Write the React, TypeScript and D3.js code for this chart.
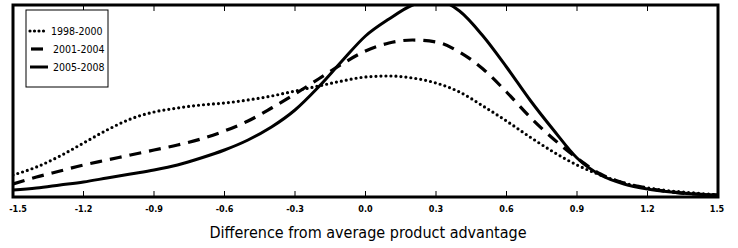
import React, { useEffect, useRef } from 'react';
import * as d3 from 'd3';

const xGrid = [-1.5, -1.4, -1.3, -1.2, -1.1, -1.0, -0.9, -0.8, -0.7, -0.6, -0.5, -0.4, -0.3, -0.2, -0.1, 0.0,
  0.1, 0.2, 0.3, 0.4, 0.5, 0.6, 0.7, 0.8, 0.9, 1.0, 1.1, 1.2, 1.3, 1.4, 1.5];

const dens9800 = [0.22, 0.30, 0.41, 0.54, 0.67, 0.78, 0.85, 0.89, 0.92, 0.94, 0.97, 1.01, 1.06, 1.11, 1.16, 1.20,
  1.21, 1.19, 1.14, 1.05, 0.91, 0.76, 0.60, 0.45, 0.32, 0.22, 0.14, 0.09, 0.06, 0.04, 0.02];
const dens0104 = [0.13, 0.20, 0.26, 0.32, 0.37, 0.42, 0.47, 0.52, 0.58, 0.66, 0.76, 0.89, 1.03, 1.18, 1.33, 1.46,
  1.54, 1.57, 1.55, 1.45, 1.28, 1.05, 0.80, 0.58, 0.39, 0.23, 0.14, 0.09, 0.05, 0.03, 0.02];
const dens0508 = [0.07, 0.09, 0.12, 0.15, 0.19, 0.23, 0.27, 0.32, 0.39, 0.47, 0.57, 0.70, 0.87, 1.10, 1.36, 1.61,
  1.78, 1.92, 1.97, 1.86, 1.61, 1.30, 0.97, 0.67, 0.39, 0.22, 0.13, 0.08, 0.05, 0.03, 0.02];

const seriesNames = ['1998-2000', '2001-2004', '2005-2008'];
const tickVals = [-1.5, -1.2, -0.9, -0.6, -0.3, 0.0, 0.3, 0.6, 0.9, 1.2, 1.5];
const tickLabels = ['-1.5', '-1.2', '-0.9', '-0.6', '-0.3', '0.0', '0.3', '0.6', '0.9', '1.2', '1.5'];
const xTitle = 'Difference from average product advantage';

export default function App() {
  const ref = useRef<SVGSVGElement>(null);

  useEffect(() => {
    const svg = d3.select(ref.current);
    svg.selectAll('*').remove();

    const left = 13, right = 718, top = 5, bottom = 197;
    const x = d3.scaleLinear().domain([-1.5, 1.5]).range([left, right]);
    const y = d3.scaleLinear().domain([0, 1.92]).range([bottom, top]);

    svg.append('defs').append('clipPath').attr('id', 'plotClip')
      .append('rect').attr('x', left).attr('y', top).attr('width', right - left).attr('height', bottom - top);

    const styles = [
      { data: dens9800, width: 3.2, dash: '0,5', cap: 'round' },
      { data: dens0104, width: 3.2, dash: '12,8', cap: 'butt' },
      { data: dens0508, width: 3, dash: null, cap: 'butt' },
    ];

    const line = d3.line<number>()
      .x((d, i) => x(xGrid[i]))
      .y(d => y(d))
      .curve(d3.curveMonotoneX);

    const g = svg.append('g').attr('clip-path', 'url(#plotClip)');
    styles.forEach(s => {
      g.append('path')
        .attr('d', line(s.data))
        .attr('fill', 'none')
        .attr('stroke', '#000')
        .attr('stroke-width', s.width)
        .attr('stroke-linecap', s.cap)
        .attr('stroke-dasharray', s.dash);
    });

    // frame
    svg.append('rect').attr('x', left).attr('y', top).attr('width', right - left).attr('height', bottom - top)
      .attr('fill', 'none').attr('stroke', '#000').attr('stroke-width', 3);

    // ticks
    tickVals.forEach((v, i) => {
      svg.append('line').attr('x1', x(v)).attr('x2', x(v)).attr('y1', bottom).attr('y2', bottom - 6)
        .attr('stroke', '#000').attr('stroke-width', 1);
      svg.append('line').attr('x1', x(v)).attr('x2', x(v)).attr('y1', top).attr('y2', top + 6)
        .attr('stroke', '#000').attr('stroke-width', 1);
      let tx = x(v);
      if (i === 0) tx += 5;
      if (i === tickVals.length - 1) tx -= 1;
      svg.append('text').attr('x', tx).attr('y', 212)
        .attr('text-anchor', 'middle')
        .style('font-family', '"Liberation Sans Narrow", "DejaVu Sans Condensed", sans-serif')
        .style('font-size', '9px').style('font-weight', 'bold')
        .text(tickLabels[i]);
    });

    svg.append('text').attr('x', 368).attr('y', 238)
      .attr('text-anchor', 'middle')
      .style('font-family', '"DejaVu Sans Condensed", "Liberation Sans Narrow", sans-serif')
      .style('font-size', '16px').style('font-weight', '200')
      .text(xTitle);

    // legend
    const lg = svg.append('g');
    lg.append('rect').attr('x', 26).attr('y', 10).attr('width', 82).attr('height', 77)
      .attr('fill', '#fff').attr('stroke', '#000').attr('stroke-width', 1);
    const rows = [31, 49, 67];
    styles.forEach((s, i) => {
      lg.append('line').attr('x1', i === 1 ? 31 : 30).attr('x2', i === 1 ? 43 : 48)
        .attr('y1', rows[i]).attr('y2', rows[i])
        .attr('stroke', '#000').attr('stroke-width', s.width)
        .attr('stroke-linecap', s.cap).attr('stroke-dasharray', i === 0 ? '0,4.5' : null);
      lg.append('text').attr('x', i === 0 ? 51 : 53).attr('y', rows[i] + 4)
        .style('font-family', '"DejaVu Sans Condensed", "Liberation Sans Narrow", sans-serif')
        .style('font-size', '10.5px')
        .text(seriesNames[i]);
    });
  }, []);

  return (
    <svg ref={ref} width={738} height={248}
      style={{ position: 'absolute', left: 0, top: 0, background: '#fff' }} />
  );
}
